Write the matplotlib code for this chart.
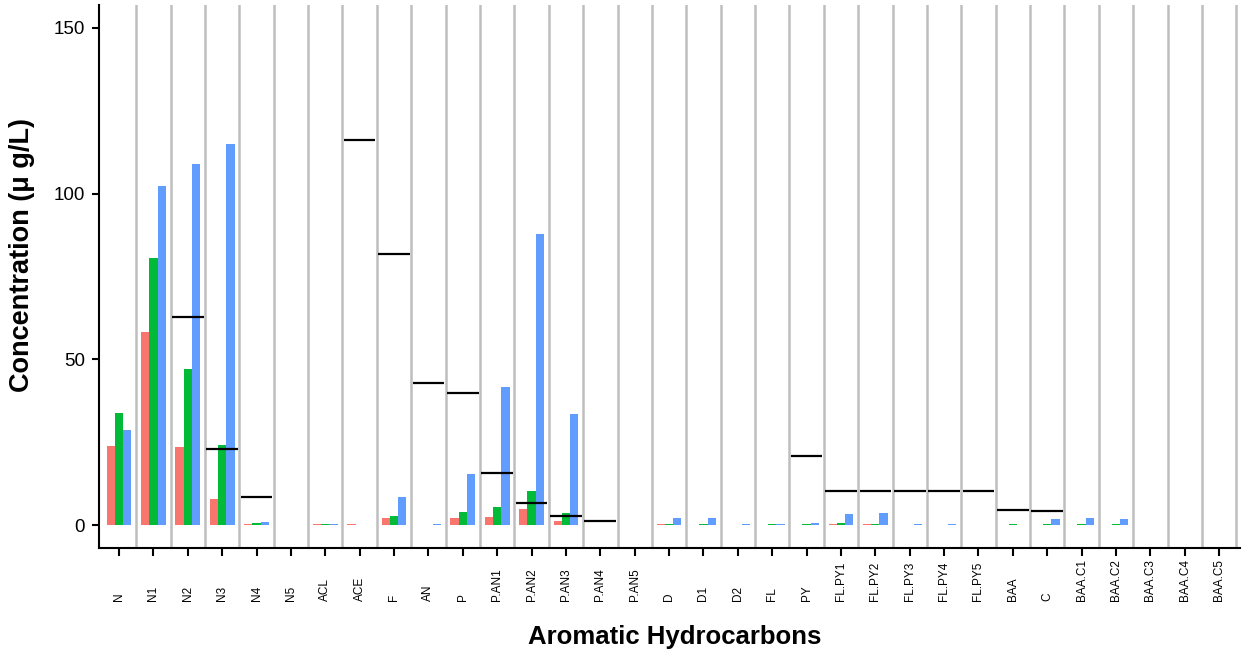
import numpy as np
import matplotlib
matplotlib.use("Agg")
import matplotlib.pyplot as plt

plt.rcParams['font.family'] = ['Liberation Sans', 'DejaVu Sans']

# compounds on the x axis
categories = ["N", "N1", "N2", "N3", "N4", "N5", "ACL", "ACE", "F", "AN", "P",
              "P.AN1", "P.AN2", "P.AN3", "P.AN4", "P.AN5", "D", "D1", "D2", "FL", "PY",
              "FL.PY1", "FL.PY2", "FL.PY3", "FL.PY4", "FL.PY5", "BAA", "C",
              "BAA.C1", "BAA.C2", "BAA.C3", "BAA.C4", "BAA.C5"]

# measured concentrations (ug/L), three samples per compound
sample_red = [23.8, 58.2, 23.6, 7.8, 0.2, 0.05, 0.2, 0.3, 2.1, 0.1, 2.3,
              2.4, 4.9, 1.2, 0.1, 0.05, 0.2, 0.1, 0.05, 0.05, 0.1,
              0.2, 0.2, 0.1, 0.1, 0.05, 0.05, 0.1,
              0.1, 0.1, 0.05, 0.05, 0.05]
sample_green = [33.9, 80.5, 47.1, 24.1, 0.5, 0.05, 0.2, 0.05, 2.7, 0.1, 4.1,
                5.6, 10.4, 3.6, 0.1, 0.05, 0.4, 0.4, 0.1, 0.2, 0.3,
                0.5, 0.4, 0.05, 0.1, 0.05, 0.3, 0.2,
                0.3, 0.3, 0.05, 0.05, 0.05]
sample_blue = [28.7, 102.4, 108.9, 115.0, 0.9, 0.05, 0.2, 0.05, 8.4, 0.2, 15.4,
               41.8, 87.7, 33.6, 0.05, 0.05, 2.0, 2.0, 0.2, 0.2, 0.5,
               3.4, 3.8, 0.2, 0.3, 0.05, 0.05, 1.9,
               2.3, 1.7, 0.05, 0.05, 0.05]

# guideline value per compound (nan = no guideline)
guideline = [np.nan, np.nan, 62.9, 23.1, 8.4, np.nan, np.nan, 116.2, 81.8, 43.0, 39.8,
             15.6, 6.7, 2.7, 1.2, np.nan, np.nan, np.nan, np.nan, np.nan, 20.9,
             10.4, 10.4, 10.4, 10.4, 10.4, 4.7, 4.2,
             np.nan, np.nan, np.nan, np.nan, np.nan]

series = [sample_red, sample_green, sample_blue]
colors = ["#F8766D", "#00BA38", "#619CFF"]

x = np.arange(len(categories))
bar_w = 0.24

fig = plt.figure(figsize=(12.46, 6.6), dpi=100)
ax = fig.add_axes([0.0795, 0.1697, 0.9155, 0.8227])

# grey separators between compounds
for b in x + 0.5:
    ax.axvline(b, color="#BEBEBE", lw=1.8, zorder=0)

for k, (vals, col) in enumerate(zip(series, colors)):
    ax.bar(x + (k - 1) * bar_w, vals, width=bar_w, color=col, zorder=2)

for i, g in enumerate(guideline):
    if not np.isnan(g):
        ax.hlines(g, i - 0.46, i + 0.46, color="black", lw=1.6, zorder=3)

ax.set_xlim(-0.58, 32.6)
ax.set_ylim(-6.9, 156.9)
ax.set_yticks([0, 50, 100, 150])

for s in ["top", "right"]:
    ax.spines[s].set_visible(False)
for s in ["left", "bottom"]:
    ax.spines[s].set_linewidth(1.5)

ax.tick_params(axis="y", length=5, width=1.5, labelsize=13.5, pad=5)
ax.tick_params(axis="x", length=5.5, width=1.5, labelsize=8.5, pad=33)
ax.set_xticks(x)
ax.set_xticklabels(categories, rotation=90)
for lab in ax.get_xticklabels():
    lab.set_verticalalignment("bottom")

ax.set_xlabel("Aromatic Hydrocarbons", fontsize=18.5, fontweight="bold")
ax.set_ylabel("Concentration (μ g/L)", fontsize=19.5, fontweight="bold")
ax.xaxis.set_label_coords(0.505, -0.142)
ax.yaxis.set_label_coords(-0.056, 0.54)

fig.savefig("out.png", dpi=100)
